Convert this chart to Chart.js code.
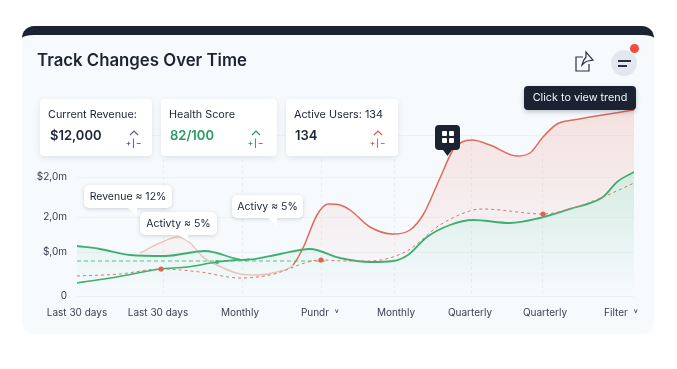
<!DOCTYPE html>
<html lang="en">
<head>
<meta charset="UTF-8">
<title>Track Changes Over Time</title>
<script src="https://cdn.jsdelivr.net/npm/chart.js"></script>
<style>
    html, body { margin: 0; padding: 0; width: 677px; height: 369px; overflow: hidden; background: #fff; font-family: Inter, "Noto Sans", sans-serif; color: #1c2433; }
    .panel { position: absolute; left: 22px; top: 26px; width: 632px; height: 308px; box-sizing: border-box; background: #f7fafd; border-top: 9px solid #1b2333; border-radius: 12px; }
    canvas { position: absolute; left: 0; top: 0; }
    .abs { position: absolute; }
    h1 { position: absolute; left: 37px; top: 49px; margin: 0; font-size: 16.8px; line-height: 22px; font-weight: 600; white-space: nowrap; }
    .stat { position: absolute; top: 99px; height: 57px; background: #fff; border-radius: 4px; box-shadow: 0 2px 6px rgba(40,55,80,.12); }
    .stat .name { position: absolute; left: 8px; top: 8px; font-size: 10.8px; line-height: 16px; white-space: nowrap; }
    .stat .num { position: absolute; left: 9px; top: 27px; font-size: 13px; line-height: 18px; font-weight: 600; white-space: nowrap; }
    .stat .sign { position: absolute; top: 40px; width: 18px; text-align: center; font-size: 8px; letter-spacing: 1px; line-height: 9px; font-weight: 600; white-space: nowrap; }
    .stat svg { position: absolute; top: 31px; }
    .bubble { position: absolute; height: 23px; line-height: 23px; text-align: center; font-size: 10.5px; background: #fff; border-radius: 5px; box-shadow: 0 1px 4px rgba(40,55,80,.2); white-space: nowrap; }
    .tip { position: absolute; left: 524px; top: 86px; width: 112px; height: 24px; line-height: 24px; text-align: center; font-size: 10.8px; background: #1b2333; color: #f2f4f8; border-radius: 4px; box-shadow: 0 2px 5px rgba(30,40,60,.25); white-space: nowrap; }
</style>
</head>
<body>
<div class="panel"></div>
<canvas id="trendChart" width="677" height="369"></canvas>

<h1>Track Changes Over Time</h1>

<svg class="abs" style="left:574px;top:50px" width="24" height="24" viewBox="0 0 24 24" fill="none" stroke="#2a3142" stroke-width="1.2">
    <path d="M9 7H2v14h13v-7"/>
    <path d="M8 15C9 11 10 9 12 7V2l7 8-5 1c-2 0-4 2-6 4z" fill="#f7fafd"/>
</svg>
<div class="abs" style="left:611px;top:50px;width:26px;height:26px;border-radius:50%;background:#e3e7ee"></div>
<div class="abs" style="left:618px;top:60px;width:13px;height:2px;background:#2a3142"></div>
<div class="abs" style="left:618px;top:65px;width:9px;height:2px;background:#2a3142"></div>
<div class="abs" style="left:630px;top:44px;width:9px;height:9px;border-radius:50%;background:#f44b3a"></div>

<div class="tip">Click to view trend</div>

<div class="stat" style="left:40px;width:112px">
    <div class="name">Current Revenue:</div>
    <div class="num" style="left:10px">$12,000</div>
    <svg style="left:89px" width="10" height="6" viewBox="0 0 10 6" fill="none" stroke="#5a5f8c" stroke-width="1.2"><path d="M1 5l4-4 4 4"/></svg>
    <div class="sign" style="left:85px;color:#5a5f8c">+|−</div>
</div>
<div class="stat" style="left:161px;width:116px">
    <div class="name">Health Score</div>
    <div class="num" style="color:#2b9a5f">82/100</div>
    <svg style="left:90px" width="10" height="6" viewBox="0 0 10 6" fill="none" stroke="#2b9a5f" stroke-width="1.2"><path d="M1 5l4-4 4 4"/></svg>
    <div class="sign" style="left:86px;color:#2b9a5f">+|−</div>
</div>
<div class="stat" style="left:286px;width:112px">
    <div class="name">Active Users: 134</div>
    <div class="num">134</div>
    <svg style="left:87px" width="10" height="6" viewBox="0 0 10 6" fill="none" stroke="#d9584c" stroke-width="1.2"><path d="M1 5l4-4 4 4"/></svg>
    <div class="sign" style="left:83px;color:#d9584c">+|−</div>
</div>

<div class="bubble" style="left:84px;top:185px;width:88px">Revenue ≈ 12%</div>
<div class="abs" style="left:128px;top:208px;width:9px;height:8px;background:#fff;clip-path:polygon(0 0,100% 0,100% 100%)"></div>
<div class="bubble" style="left:140px;top:212px;width:77px">Activty ≈ 5%</div>
<div class="abs" style="left:179px;top:235px;width:9px;height:6px;background:#fff;clip-path:polygon(0 0,100% 0,100% 100%)"></div>
<div class="bubble" style="left:232px;top:195px;width:71px">Activy ≈ 5%</div>
<div class="abs" style="left:268px;top:218px;width:9px;height:8px;background:#fff;clip-path:polygon(0 0,100% 0,100% 100%)"></div>

<div class="abs" style="left:435px;top:125px;width:25px;height:25px;border-radius:4px;background:#1b2333"></div>
<div class="abs" style="left:443px;top:150px;width:9px;height:6px;background:#1b2333;clip-path:polygon(0 0,100% 0,50% 100%)"></div>
<div class="abs" style="left:442px;top:131px;width:5px;height:5px;background:#fff;border-radius:1px"></div>
<div class="abs" style="left:449px;top:131px;width:5px;height:5px;background:#fff;border-radius:1px"></div>
<div class="abs" style="left:442px;top:138px;width:5px;height:5px;background:#fff;border-radius:1px"></div>
<div class="abs" style="left:449px;top:138px;width:5px;height:5px;background:#fff;border-radius:1px"></div>

<script>
    const xLabels = ["Last 30 days", "Last 30 days", "Monthly", "Pundr  ˅", "Monthly", "Quarterly", "Quarterly", "Filter  ˅"];
    const xLabelAt = [77, 158, 240, 320, 396, 470, 545, 621];
    const xGridAt = [163, 242, 321, 394, 471, 542];
    const yLabels = ["0", "$,0m", "2,0m", "$2,0m", ""];
    const yTickAt = [0, 44, 79, 119, 161];

    const revenueX = [140, 160, 178, 190, 203, 217, 240, 257, 277, 293, 303, 317, 328, 340, 350, 370, 393, 410, 423, 440, 453, 462, 472, 490, 517, 530, 543, 557, 573, 634];
    const revenueY = [43, 53, 59, 53, 39, 31, 22, 21, 24, 31, 48, 81, 92, 91, 86, 69, 62, 66, 81, 118, 146, 154, 156, 151, 140, 143, 159, 172, 176, 186];

    const healthX = [77, 100, 130, 165, 205, 245, 280, 310, 340, 370, 393, 408, 427, 450, 473, 510, 540, 573, 603, 617, 634];
    const healthY = [50, 47, 41, 40, 45, 36, 42, 47, 38, 34, 35, 41, 59, 71, 76, 73, 78, 88, 99, 114, 124];

    const activeX = [77, 117, 160, 187, 217, 250];
    const activeY = [13, 19, 27, 29, 34, 37];

    const targetX = [77, 150, 217, 285, 325];
    const targetY = [35, 35, 35, 35, 35];

    const forecastX = [77, 120, 160, 200, 240, 270, 321, 345, 368, 407, 440, 473, 483, 543, 573, 603, 634];
    const forecastY = [20, 22, 27, 24, 18, 21, 36, 35, 35, 45, 71, 86, 87, 82, 88, 99, 113];

    const redDotsX = [161, 321, 543];
    const redDotsY = [27, 36, 82];
    const greenDotsX = [217];
    const greenDotsY = [34];

    const toPoints = (xs, ys) => xs.map((x, i) => ({ x: x, y: ys[i] }));

    function areaGradient(context, rgb, topAlpha) {
        const area = context.chart.chartArea;
        if (!area) return 'transparent';
        const g = context.chart.ctx.createLinearGradient(0, area.top + 14, 0, area.bottom);
        g.addColorStop(0, `rgba(${rgb},${topAlpha})`);
        g.addColorStop(1, `rgba(${rgb},0)`);
        return g;
    }

    // dashed vertical guides, they sit next to the labels and not on them
    const verticalGuides = {
        id: 'verticalGuides',
        beforeDatasetsDraw(chart) {
            const { ctx, chartArea, scales } = chart;
            ctx.save();
            ctx.strokeStyle = '#e9edf3';
            ctx.lineWidth = 1;
            ctx.setLineDash([3, 3]);
            xGridAt.forEach(x => {
                const px = Math.round(scales.x.getPixelForValue(x)) + 0.5;
                ctx.beginPath();
                ctx.moveTo(px, scales.y.getPixelForValue(161));
                ctx.lineTo(px, chartArea.bottom);
                ctx.stroke();
            });
            ctx.restore();
        }
    };

    new Chart(document.getElementById('trendChart').getContext('2d'), {
        type: 'line',
        plugins: [verticalGuides],
        data: {
            datasets: [
                {
                    data: toPoints(redDotsX, redDotsY), showLine: false, order: 0,
                    pointRadius: 2.6, pointBackgroundColor: '#df5f52', pointBorderWidth: 0
                },
                {
                    data: toPoints(greenDotsX, greenDotsY), showLine: false, order: 0,
                    pointRadius: 2, pointBackgroundColor: '#3fae72', pointBorderWidth: 0
                },
                {
                    data: toPoints(forecastX, forecastY), order: 1,
                    borderColor: '#d9776c', borderWidth: 1, borderDash: [3, 3],
                    pointRadius: 0, cubicInterpolationMode: 'monotone'
                },
                {
                    data: toPoints(targetX, targetY), order: 1,
                    borderColor: '#3fae72', borderWidth: 0.8, borderDash: [4, 3],
                    pointRadius: 0
                },
                {
                    data: toPoints(activeX, activeY), order: 2,
                    borderColor: '#3fae72', borderWidth: 1.6,
                    pointRadius: 0, cubicInterpolationMode: 'monotone'
                },
                {
                    data: toPoints(healthX, healthY), order: 3,
                    borderColor: '#3fae72', borderWidth: 1.8,
                    backgroundColor: c => areaGradient(c, '98,191,138', 0.34), fill: 'origin',
                    pointRadius: 0, cubicInterpolationMode: 'monotone'
                },
                {
                    data: toPoints(revenueX, revenueY), order: 4,
                    borderColor: '#de6a5e', borderWidth: 1.5,
                    segment: { borderColor: c => c.p0.parsed.x < 290 ? '#ecc4bf' : undefined },
                    backgroundColor: c => areaGradient(c, '239,138,124', 0.22),
                    fill: { target: 5, below: 'rgba(0,0,0,0)' },
                    pointRadius: 0, cubicInterpolationMode: 'monotone'
                }
            ]
        },
        options: {
            responsive: false,
            animation: false,
            layout: { padding: { top: 96, right: 43, left: 0, bottom: 0 } },
            plugins: { legend: { display: false }, tooltip: { enabled: false } },
            scales: {
                x: {
                    type: 'linear', min: 77, max: 634,
                    afterFit: s => { s.height = 73; },
                    afterBuildTicks: s => { s.ticks = xLabelAt.map(v => ({ value: v })); },
                    grid: { display: false },
                    border: { display: false },
                    ticks: {
                        autoSkip: false, maxRotation: 0, padding: 3, color: '#3a4252',
                        font: { family: 'Inter', size: 10 },
                        callback: v => xLabels[xLabelAt.indexOf(v)]
                    }
                },
                y: {
                    type: 'linear', min: 0, max: 200,
                    afterFit: s => { s.width = 77; },
                    afterBuildTicks: s => { s.ticks = yTickAt.map(v => ({ value: v })); },
                    grid: { color: '#eef1f6', drawTicks: false },
                    border: { display: false },
                    ticks: {
                        autoSkip: false, padding: 10, color: '#3a4252',
                        font: { family: 'Inter', size: 10 },
                        callback: v => yLabels[yTickAt.indexOf(v)]
                    }
                }
            }
        }
    });
</script>
</body>
</html>
